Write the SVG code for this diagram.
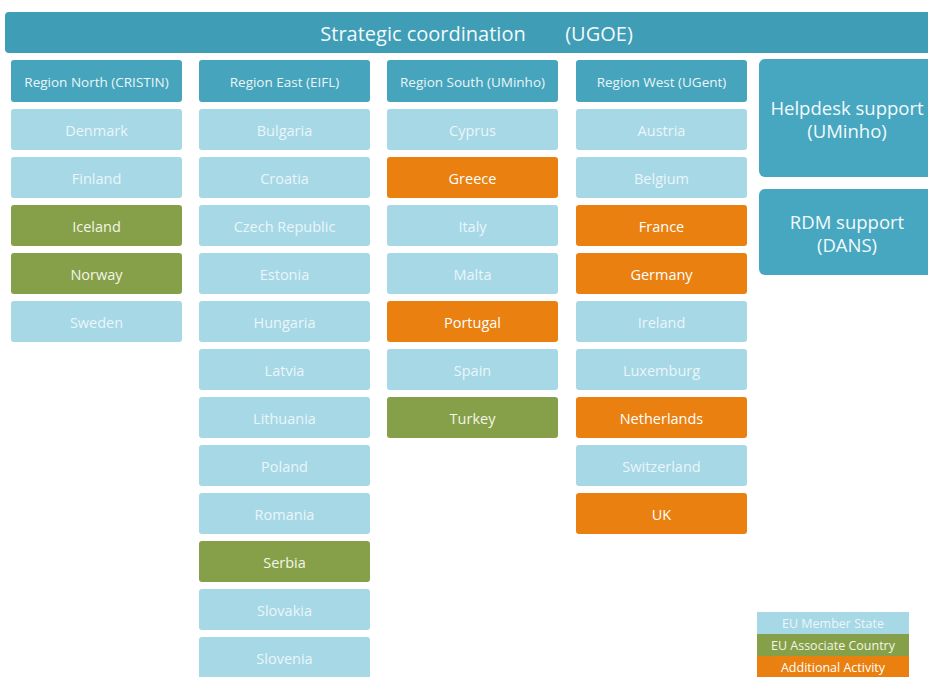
<svg xmlns="http://www.w3.org/2000/svg" width="928" height="677" viewBox="0 0 928 677">
<style>
text{font-family:"Open Sans","Noto Sans","DejaVu Sans",sans-serif;text-anchor:middle}
.bar{fill:#3f9db6}
.hdr{fill:#46a4bc}
.hdrt{fill:#eaf6f9;font-size:13.5px}
.m{fill:#a7d8e6}
.a{fill:#86a04a}
.o{fill:#e9800f}
.ct{font-size:14.5px}
.mt{fill:#eaf6fa}
.at{fill:#f3f5e6}
.ot{fill:#ffffff}
.sup{fill:#47a7c0}
.supt{fill:#f2fafc;font-size:18.5px}
.lg{font-size:12.5px}
</style>
<rect width="928" height="677" fill="#ffffff"/>
<g id="coordination">
<rect class="bar" x="5" y="12" width="935" height="41" rx="4"/>
<text x="423" y="41" fill="#f2fafc" style="font-size:20px">Strategic coordination</text>
<text x="599" y="41" fill="#f2fafc" style="font-size:20px">(UGOE)</text>
</g>
<g id="region-north">
<rect class="hdr" x="11" y="60" width="171" height="42" rx="3"/>
<text class="hdrt" x="96.5" y="87">Region North (CRISTIN)</text>
</g>
<g id="region-east">
<rect class="hdr" x="199" y="60" width="171" height="42" rx="3"/>
<text class="hdrt" x="284.5" y="87">Region East (EIFL)</text>
</g>
<g id="region-south">
<rect class="hdr" x="387" y="60" width="171" height="42" rx="3"/>
<text class="hdrt" x="472.5" y="87">Region South (UMinho)</text>
</g>
<g id="region-west">
<rect class="hdr" x="576" y="60" width="171" height="42" rx="3"/>
<text class="hdrt" x="661.5" y="87">Region West (UGent)</text>
</g>
<g id="helpdesk">
<rect class="sup" x="759" y="59" width="180" height="118" rx="6"/>
<text class="supt" x="847" y="115">Helpdesk support</text>
<text class="supt" x="847" y="138">(UMinho)</text>
</g>
<g id="rdm">
<rect class="sup" x="759" y="189" width="180" height="86" rx="6"/>
<text class="supt" x="847" y="229">RDM support</text>
<text class="supt" x="847" y="252">(DANS)</text>
</g>
<g id="north-countries">
<g id="denmark"><rect class="m" x="11" y="109" width="171" height="41" rx="3"/><text class="ct mt" x="96.5" y="136">Denmark</text></g>
<g id="finland"><rect class="m" x="11" y="157" width="171" height="41" rx="3"/><text class="ct mt" x="96.5" y="184">Finland</text></g>
<g id="iceland"><rect class="a" x="11" y="205" width="171" height="41" rx="3"/><text class="ct at" x="96.5" y="232">Iceland</text></g>
<g id="norway"><rect class="a" x="11" y="253" width="171" height="41" rx="3"/><text class="ct at" x="96.5" y="280">Norway</text></g>
<g id="sweden"><rect class="m" x="11" y="301" width="171" height="41" rx="3"/><text class="ct mt" x="96.5" y="328">Sweden</text></g>
</g>
<g id="east-countries">
<g id="bulgaria"><rect class="m" x="199" y="109" width="171" height="41" rx="3"/><text class="ct mt" x="284.5" y="136">Bulgaria</text></g>
<g id="croatia"><rect class="m" x="199" y="157" width="171" height="41" rx="3"/><text class="ct mt" x="284.5" y="184">Croatia</text></g>
<g id="czech-republic"><rect class="m" x="199" y="205" width="171" height="41" rx="3"/><text class="ct mt" x="284.5" y="232">Czech Republic</text></g>
<g id="estonia"><rect class="m" x="199" y="253" width="171" height="41" rx="3"/><text class="ct mt" x="284.5" y="280">Estonia</text></g>
<g id="hungaria"><rect class="m" x="199" y="301" width="171" height="41" rx="3"/><text class="ct mt" x="284.5" y="328">Hungaria</text></g>
<g id="latvia"><rect class="m" x="199" y="349" width="171" height="41" rx="3"/><text class="ct mt" x="284.5" y="376">Latvia</text></g>
<g id="lithuania"><rect class="m" x="199" y="397" width="171" height="41" rx="3"/><text class="ct mt" x="284.5" y="424">Lithuania</text></g>
<g id="poland"><rect class="m" x="199" y="445" width="171" height="41" rx="3"/><text class="ct mt" x="284.5" y="472">Poland</text></g>
<g id="romania"><rect class="m" x="199" y="493" width="171" height="41" rx="3"/><text class="ct mt" x="284.5" y="520">Romania</text></g>
<g id="serbia"><rect class="a" x="199" y="541" width="171" height="41" rx="3"/><text class="ct at" x="284.5" y="568">Serbia</text></g>
<g id="slovakia"><rect class="m" x="199" y="589" width="171" height="41" rx="3"/><text class="ct mt" x="284.5" y="616">Slovakia</text></g>
<g id="slovenia"><rect class="m" x="199" y="637" width="171" height="45" rx="3"/><text class="ct mt" x="284.5" y="664">Slovenia</text></g>
</g>
<g id="south-countries">
<g id="cyprus"><rect class="m" x="387" y="109" width="171" height="41" rx="3"/><text class="ct mt" x="472.5" y="136">Cyprus</text></g>
<g id="greece"><rect class="o" x="387" y="157" width="171" height="41" rx="3"/><text class="ct ot" x="472.5" y="184">Greece</text></g>
<g id="italy"><rect class="m" x="387" y="205" width="171" height="41" rx="3"/><text class="ct mt" x="472.5" y="232">Italy</text></g>
<g id="malta"><rect class="m" x="387" y="253" width="171" height="41" rx="3"/><text class="ct mt" x="472.5" y="280">Malta</text></g>
<g id="portugal"><rect class="o" x="387" y="301" width="171" height="41" rx="3"/><text class="ct ot" x="472.5" y="328">Portugal</text></g>
<g id="spain"><rect class="m" x="387" y="349" width="171" height="41" rx="3"/><text class="ct mt" x="472.5" y="376">Spain</text></g>
<g id="turkey"><rect class="a" x="387" y="397" width="171" height="41" rx="3"/><text class="ct at" x="472.5" y="424">Turkey</text></g>
</g>
<g id="west-countries">
<g id="austria"><rect class="m" x="576" y="109" width="171" height="41" rx="3"/><text class="ct mt" x="661.5" y="136">Austria</text></g>
<g id="belgium"><rect class="m" x="576" y="157" width="171" height="41" rx="3"/><text class="ct mt" x="661.5" y="184">Belgium</text></g>
<g id="france"><rect class="o" x="576" y="205" width="171" height="41" rx="3"/><text class="ct ot" x="661.5" y="232">France</text></g>
<g id="germany"><rect class="o" x="576" y="253" width="171" height="41" rx="3"/><text class="ct ot" x="661.5" y="280">Germany</text></g>
<g id="ireland"><rect class="m" x="576" y="301" width="171" height="41" rx="3"/><text class="ct mt" x="661.5" y="328">Ireland</text></g>
<g id="luxemburg"><rect class="m" x="576" y="349" width="171" height="41" rx="3"/><text class="ct mt" x="661.5" y="376">Luxemburg</text></g>
<g id="netherlands"><rect class="o" x="576" y="397" width="171" height="41" rx="3"/><text class="ct ot" x="661.5" y="424">Netherlands</text></g>
<g id="switzerland"><rect class="m" x="576" y="445" width="171" height="41" rx="3"/><text class="ct mt" x="661.5" y="472">Switzerland</text></g>
<g id="uk"><rect class="o" x="576" y="493" width="171" height="41" rx="3"/><text class="ct ot" x="661.5" y="520">UK</text></g>
</g>
<g id="legend">
<rect class="m" x="757" y="612" width="152" height="22"/>
<text class="lg mt" x="833" y="628">EU Member State</text>
<rect class="a" x="757" y="634" width="152" height="22"/>
<text class="lg at" x="833" y="650">EU Associate Country</text>
<rect class="o" x="757" y="656" width="152" height="22"/>
<text class="lg ot" x="833" y="672">Additional Activity</text>
</g>
<g id="connectors"></g>
</svg>
